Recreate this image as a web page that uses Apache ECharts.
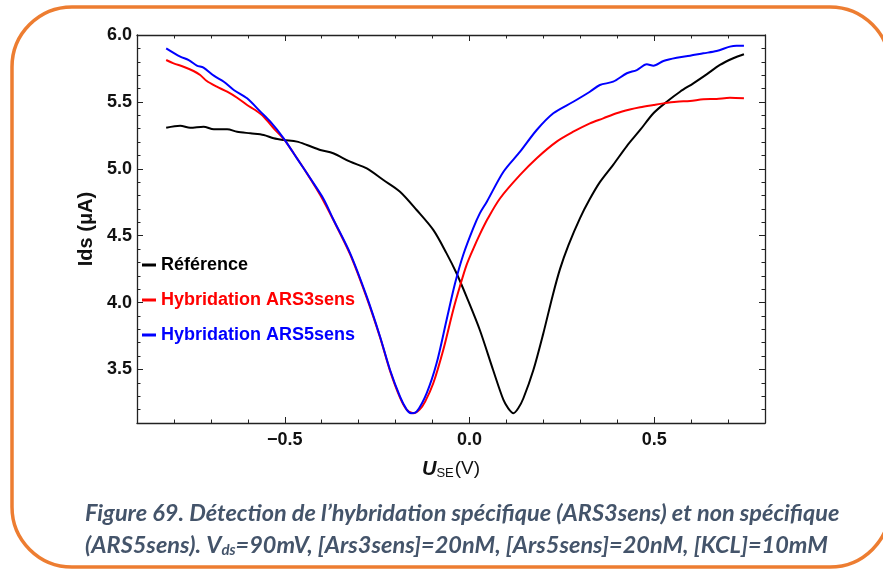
<!DOCTYPE html>
<html>
<head>
<meta charset="utf-8">
<script src="https://cdn.jsdelivr.net/npm/echarts@6/dist/echarts.min.js"></script>
<style>
html,body{margin:0;padding:0;background:#fff}
#chart{width:883px;height:570px}
</style>
</head>
<body>
<div id="chart"></div>
<script>
// courbes (Ids en µA en fonction de U_SE en V)
var refX = [-0.821,-0.783,-0.756,-0.720,-0.692,-0.656,-0.629,-0.593,-0.557,-0.530,-0.503,-0.467,-0.440,-0.404,-0.369,-0.323,-0.278,-0.233,-0.188,-0.143,-0.098,-0.062,-0.035,-0.008,0.028,0.064,0.092,0.105,0.119,0.132,0.146,0.173,0.200,0.225,0.245,0.268,0.299,0.325,0.353,0.389,0.426,0.462,0.498,0.534,0.570,0.606,0.642,0.678,0.714,0.743];
var refY = [5.307,5.322,5.307,5.315,5.295,5.295,5.277,5.265,5.253,5.228,5.215,5.203,5.178,5.141,5.116,5.053,5.003,4.916,4.829,4.692,4.543,4.368,4.219,4.044,3.795,3.496,3.272,3.210,3.173,3.210,3.285,3.496,3.771,4.050,4.250,4.430,4.630,4.770,4.900,5.030,5.170,5.290,5.415,5.501,5.576,5.639,5.706,5.776,5.826,5.856];

var ars3X = [-0.821,-0.801,-0.774,-0.747,-0.729,-0.711,-0.684,-0.656,-0.629,-0.602,-0.580,-0.557,-0.530,-0.503,-0.476,-0.440,-0.404,-0.368,-0.323,-0.278,-0.242,-0.215,-0.188,-0.170,-0.152,-0.135,-0.120,-0.098,-0.071,-0.044,-0.026,-0.008,0.010,0.028,0.050,0.083,0.137,0.182,0.236,0.281,0.326,0.362,0.398,0.434,0.462,0.498,0.525,0.561,0.597,0.633,0.669,0.705,0.743];
var ars3Y = [5.813,5.788,5.763,5.731,5.701,5.656,5.614,5.576,5.531,5.477,5.439,5.389,5.302,5.223,5.116,4.966,4.804,4.615,4.360,4.035,3.740,3.490,3.290,3.200,3.173,3.200,3.260,3.397,3.646,3.945,4.120,4.280,4.400,4.510,4.630,4.780,4.954,5.079,5.203,5.277,5.340,5.377,5.415,5.443,5.460,5.477,5.489,5.501,5.507,5.519,5.522,5.531,5.527];

var ars5X = [-0.821,-0.783,-0.760,-0.738,-0.720,-0.692,-0.665,-0.638,-0.602,-0.566,-0.539,-0.503,-0.467,-0.431,-0.395,-0.369,-0.323,-0.278,-0.242,-0.215,-0.188,-0.170,-0.158,-0.143,-0.116,-0.089,-0.062,-0.039,-0.017,0.010,0.028,0.047,0.092,0.137,0.182,0.227,0.281,0.326,0.353,0.389,0.426,0.453,0.480,0.498,0.525,0.561,0.597,0.633,0.669,0.705,0.723,0.743];
var ars5Y = [5.900,5.838,5.813,5.771,5.756,5.696,5.651,5.589,5.527,5.427,5.352,5.228,5.078,4.929,4.775,4.625,4.368,4.044,3.745,3.496,3.297,3.200,3.173,3.185,3.322,3.546,3.870,4.144,4.356,4.555,4.667,4.754,4.978,5.128,5.290,5.415,5.501,5.576,5.626,5.651,5.714,5.738,5.781,5.771,5.806,5.830,5.845,5.863,5.880,5.913,5.920,5.920];

var seriesNames = ['Référence','Hybridation ARS3sens','Hybridation ARS5sens'];
var seriesColors = ['#000000','#ff0000','#0000ff'];

// graduations
var xLabelValues = [-0.5, 0, 0.5];
var xMinorValues = [-0.8,-0.7,-0.6,-0.4,-0.3,-0.2,-0.1,0.1,0.2,0.3,0.4,0.6,0.7];
var yLabelValues = [3.5, 4.0, 4.5, 5.0, 5.5, 6.0];
var yMinorValues = [3.2,3.3,3.4,3.6,3.7,3.8,3.9,4.1,4.2,4.3,4.4,4.6,4.7,4.8,4.9,5.1,5.2,5.3,5.4,5.6,5.7,5.8,5.9];

var FONT = '"Liberation Sans", Arial, sans-serif';
var CAPTION_FONT = 'italic bold 23.5px Lato, "Open Sans", sans-serif';

function zip(xs, ys) {
    var out = [];
    for (var i = 0; i < xs.length; i++) out.push([xs[i], ys[i]]);
    return out;
}

// un axe = soit les grandes graduations (avec ou sans texte), soit les petites
function makeAxis(pos, min, max, ticks, len, withLabel, withLine, isY) {
    var ax = {
        type: 'value', position: pos, min: min, max: max,
        splitLine: {show: false},
        axisLine: {show: withLine, onZero: false, lineStyle: {color: '#222', width: 1.3}},
        axisTick: {show: true, inside: true, length: len, customValues: ticks, lineStyle: {color: '#222', width: 1}},
        axisLabel: {show: false}
    };
    if (withLabel) {
        ax.axisLabel = {
            show: true, customValues: ticks, color: '#111', fontFamily: FONT, fontWeight: 'bold', fontSize: 18,
            margin: isY ? 5 : 8,
            formatter: function (v) {
                var s = Math.abs(v).toFixed(1);
                return v < 0 ? '\u2212' + s : s;
            }
        };
    }
    return ax;
}

var xAxes = [
    makeAxis('bottom', -0.9, 0.8, xLabelValues, 6, true, true, false),
    makeAxis('bottom', -0.9, 0.8, xMinorValues, 3.5, false, false, false),
    makeAxis('top', -0.9, 0.8, xLabelValues, 6, false, true, false),
    makeAxis('top', -0.9, 0.8, xMinorValues, 3.5, false, false, false)
];
xAxes[0].name = '{u|U}{s|SE}{v|(V)}';
xAxes[0].nameLocation = 'middle';
xAxes[0].nameGap = 35;
xAxes[0].nameTextStyle = {
    rich: {
        u: {fontFamily: FONT, fontSize: 20, fontWeight: 'bold', fontStyle: 'italic', color: '#111'},
        s: {fontFamily: FONT, fontSize: 13, color: '#111', padding: [9, 1, 0, 0]},
        v: {fontFamily: FONT, fontSize: 19, color: '#111'}
    }
};

var yAxes = [
    makeAxis('left', 3.1, 6.0, yLabelValues, 6, true, true, true),
    makeAxis('left', 3.1, 6.0, yMinorValues, 3.5, false, false, true),
    makeAxis('right', 3.1, 6.0, yLabelValues, 6, false, true, true),
    makeAxis('right', 3.1, 6.0, yMinorValues, 3.5, false, false, true)
];
yAxes[0].name = 'Ids (\u03bcA)';
yAxes[0].nameLocation = 'middle';
yAxes[0].nameGap = 35;
yAxes[0].nameTextStyle = {fontFamily: FONT, fontSize: 20, fontWeight: 'bold', color: '#111'};

var allX = [refX, ars3X, ars5X];
var allY = [refY, ars3Y, ars5Y];
var series = [];
var legendData = [];
for (var k = 0; k < 3; k++) {
    series.push({
        name: seriesNames[k], type: 'line', xAxisIndex: 0, yAxisIndex: 0,
        data: zip(allX[k], allY[k]), showSymbol: false, smooth: 0.3,
        color: seriesColors[k], lineStyle: {width: 2, color: seriesColors[k]}
    });
    legendData.push({name: seriesNames[k], textStyle: {color: seriesColors[k]}});
}

var myChart = echarts.init(document.getElementById('chart'));
var option = {
    animation: false,
    backgroundColor: '#fff',
    grid: {left: 137, top: 35, right: 118, bottom: 147},
    xAxis: xAxes,
    yAxis: yAxes,
    legend: {
        orient: 'vertical', left: 142, top: 256, padding: 0, icon: 'rect', itemWidth: 14, itemHeight: 3, itemGap: 17,
        textStyle: {fontFamily: FONT, fontWeight: 'bold', fontSize: 18},
        data: legendData
    },
    graphic: [
        {
            type: 'rect', silent: true, z: -1,
            shape: {x: 12, y: 7, width: 878, height: 560, r: 60},
            style: {fill: 'none', stroke: '#ed7d31', lineWidth: 3.5}
        },
        {
            type: 'text', left: 85, top: 502,
            style: {
                text: 'Figure 69. Détection de l\u2019hybridation spécifique (ARS3sens) et non spécifique',
                font: CAPTION_FONT, fill: '#44546a'
            }
        },
        {
            type: 'text', left: 85, top: 534,
            style: {
                text: '{t|(ARS5sens). V}{s|ds}{t|=90mV, [Ars3sens]=20nM, [Ars5sens]=20nM, [KCL]=10mM}',
                rich: {
                    t: {font: CAPTION_FONT, fill: '#44546a'},
                    s: {font: 'italic bold 15px Lato, "Open Sans", sans-serif', fill: '#44546a', padding: [10, 0, 0, 0]}
                }
            }
        }
    ],
    series: series
};
myChart.setOption(option);
</script>
</body>
</html>
